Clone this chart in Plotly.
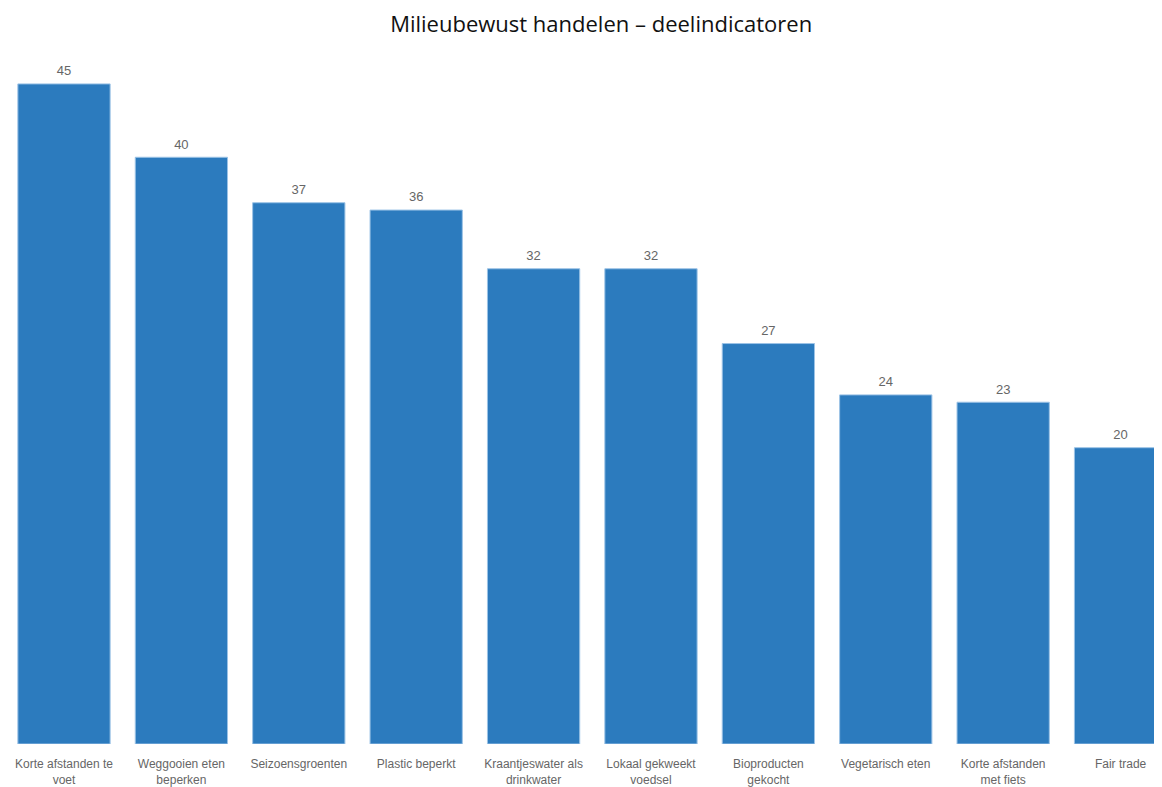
import plotly.graph_objects as go

categories = [
    "Korte afstanden te<br>voet",
    "Weggooien eten<br>beperken",
    "Seizoensgroenten",
    "Plastic beperkt",
    "Kraantjeswater als<br>drinkwater",
    "Lokaal gekweekt<br>voedsel",
    "Bioproducten<br>gekocht",
    "Vegetarisch eten",
    "Korte afstanden<br>met fiets",
    "Fair trade",
]
values = [45.0, 40.0, 36.9, 36.4, 32.4, 32.4, 27.3, 23.8, 23.3, 20.2]
value_labels = [f"{v:.0f}" for v in values]

BAR = "#2C7BBE"
EDGE = "#9CC3E6"
GRAY = "#666666"

xs = list(range(len(categories)))

fig = go.Figure()
fig.add_trace(
    go.Bar(
        x=xs,
        y=values,
        marker=dict(color=BAR, line=dict(color=EDGE, width=1)),
        hoverinfo="skip",
    )
)
fig.add_trace(
    go.Scatter(
        x=xs,
        y=values,
        mode="markers+text",
        marker=dict(size=7, color="rgba(0,0,0,0)"),
        text=value_labels,
        textposition="top center",
        textfont=dict(family="Liberation Sans, Arial", size=13, color=GRAY),
        cliponaxis=False,
        hoverinfo="skip",
    )
)

fig.update_layout(
    width=1154,
    height=779,
    margin=dict(l=0, r=0, t=52, b=43),
    paper_bgcolor="white",
    plot_bgcolor="white",
    bargap=0.214,
    showlegend=False,
    title=dict(
        text="Milieubewust handelen – deelindicatoren",
        x=0.514,
        xanchor="center",
        y=0.979,
        yanchor="middle",
        font=dict(family="Open Sans", size=22, color="#111111"),
    ),
    xaxis=dict(
        tickmode="array",
        tickvals=xs,
        ticktext=categories,
        range=[-0.477, 9.353],
        showgrid=False,
        zeroline=False,
        showline=False,
        ticks="",
        ticklabelstandoff=11,
        tickfont=dict(family="Liberation Sans, Arial", size=12, color=GRAY),
        tickangle=0,
    ),
    yaxis=dict(
        range=[0, 46.63],
        showgrid=False,
        zeroline=False,
        showline=False,
        showticklabels=False,
        ticks="",
    ),
)

fig.write_html("out.html")
